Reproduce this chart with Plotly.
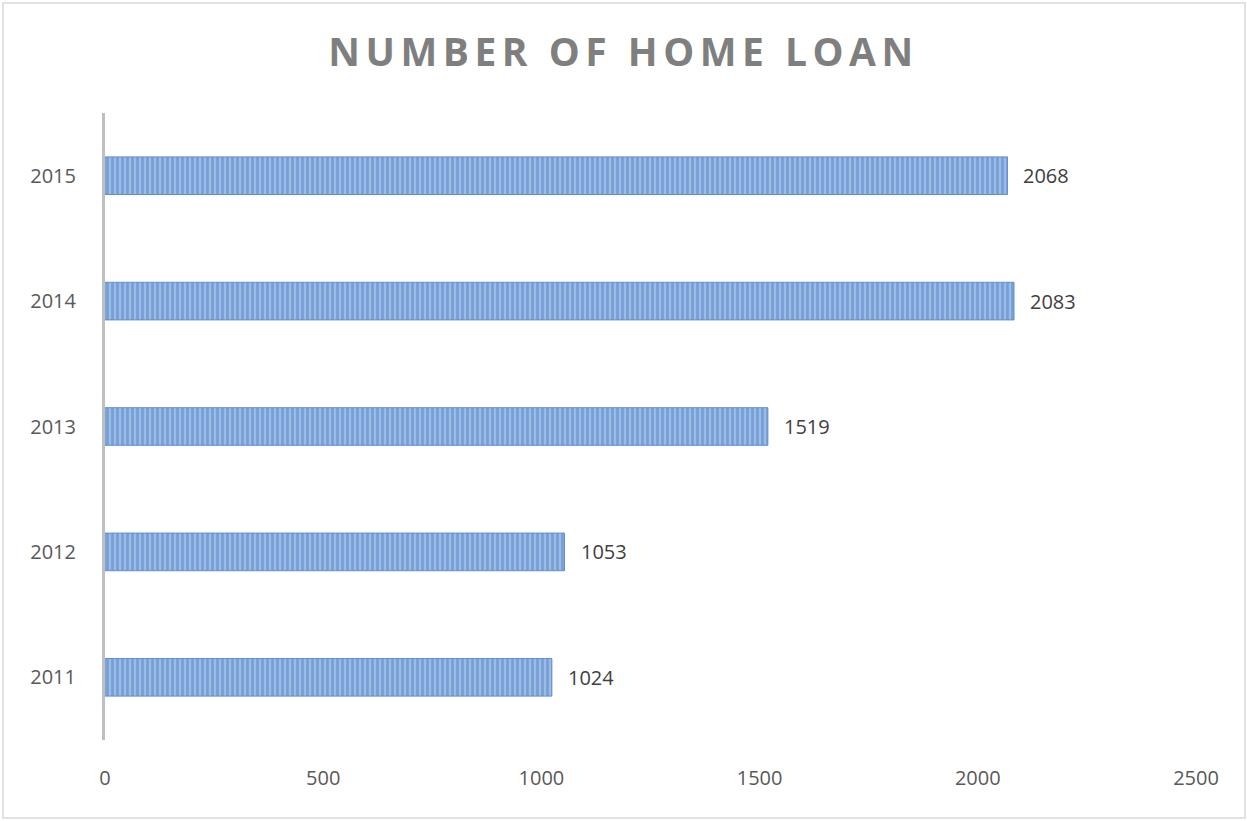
import plotly.graph_objects as go

# Home loan counts per year
years = ["2011", "2012", "2013", "2014", "2015"]
loans = [1024, 1053, 1519, 2083, 2068]
x_ticks = [0, 500, 1000, 1500, 2000, 2500]

W, H = 1247, 821
M = dict(l=105, r=51, t=113, b=81)
pw = W - M["l"] - M["r"]
ph = H - M["t"] - M["b"]

fig = go.Figure(
    go.Bar(
        y=years,
        x=loans,
        orientation="h",
        width=0.3,
        marker=dict(
            color="#9cbbe6",
            line=dict(color="#5f8fcf", width=1),
            pattern=dict(shape="|", fgcolor="#5083c6", size=5, solidity=0.55),
        ),
        hoverinfo="skip",
    )
)

# value labels to the right of each bar (y given as category index)
for i, v in enumerate(loans):
    fig.add_annotation(
        x=v,
        y=i,
        text=str(v),
        showarrow=False,
        xanchor="left",
        yanchor="middle",
        xshift=14,
        font=dict(family="Open Sans", size=20, color="#404040"),
    )

fig.update_layout(
    width=W,
    height=H,
    margin=M,
    paper_bgcolor="white",
    plot_bgcolor="white",
    showlegend=False,
    title=dict(
        text="<b>NUMBER OF HOME LOAN</b>",
        x=0.5,
        xanchor="center",
        xref="container",
        y=1 - 52 / H,
        yanchor="middle",
        font=dict(family="Open Sans", size=39, color="#7f7f7f"),
    ),
    xaxis=dict(
        range=[0, 2500],
        tickvals=x_ticks,
        showgrid=False,
        zeroline=False,
        showline=False,
        ticks="",
        ticklabelstandoff=24,
        tickfont=dict(family="Open Sans", size=20, color="#595959"),
    ),
    yaxis=dict(
        type="category",
        categoryorder="array",
        categoryarray=years,
        range=[-0.5, len(years) - 0.5],
        showgrid=False,
        zeroline=False,
        showline=True,
        linecolor="#bfbfbf",
        linewidth=3,
        ticks="",
        ticklabelstandoff=22,
        tickfont=dict(family="Open Sans", size=20, color="#595959"),
    ),
    shapes=[
        dict(
            type="rect",
            xref="paper",
            yref="paper",
            x0=(3 - M["l"]) / pw,
            x1=(1245 - M["l"]) / pw,
            y0=-(818 - (H - M["b"])) / ph,
            y1=1 + (M["t"] - 3) / ph,
            line=dict(color="#d9d9d9", width=1.5),
            fillcolor="rgba(0,0,0,0)",
            layer="below",
        )
    ],
)

fig.write_html(
    "out.html",
    post_script="document.querySelectorAll('.gtitle').forEach(function(t){t.style.letterSpacing='5.5px';});",
)
